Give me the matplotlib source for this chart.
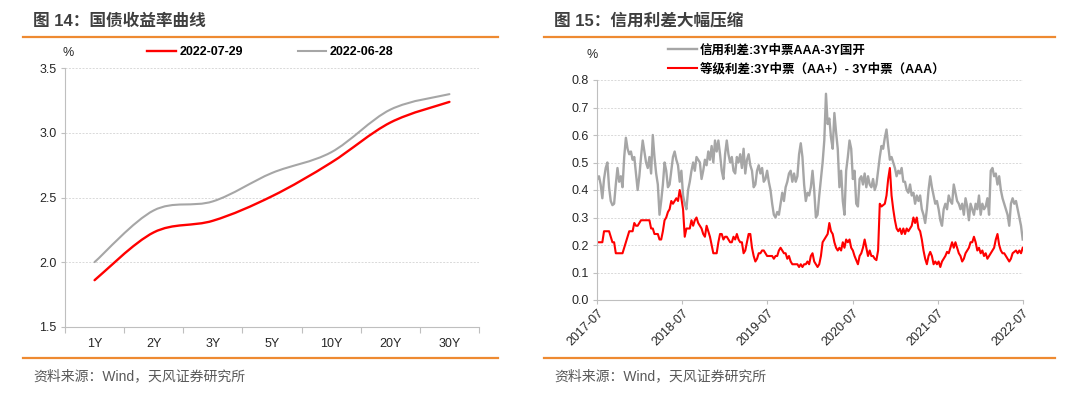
import matplotlib

matplotlib.use("Agg", force=True)

import matplotlib.pyplot as plt
import matplotlib.dates as mdates
import pandas as pd
from matplotlib.lines import Line2D
from matplotlib.patches import PathPatch
from matplotlib.path import Path

plt.rcParams["font.family"] = ["Liberation Sans", "Noto Sans CJK SC", "DejaVu Sans"]

# --- left: treasury yield curve ---
tenors = ["1Y", "2Y", "3Y", "5Y", "10Y", "20Y", "30Y"]
yield_0729 = [1.86, 2.23, 2.32, 2.51, 2.77, 3.08, 3.24]
yield_0628 = [2.00, 2.40, 2.47, 2.69, 2.85, 3.18, 3.30]

# --- right: credit spreads, 2017-07 .. 2022-07 ---
credit_spread = [
    0.44, 0.45, 0.42, 0.37, 0.44, 0.48, 0.50, 0.41, 0.36, 0.345,
    0.35, 0.42, 0.48, 0.43, 0.45, 0.41, 0.52, 0.59, 0.55, 0.53,
    0.54, 0.51, 0.52, 0.46, 0.40, 0.45, 0.52, 0.58, 0.54, 0.50,
    0.48, 0.52, 0.46, 0.60, 0.52, 0.46, 0.42, 0.31, 0.36, 0.42,
    0.50, 0.47, 0.41, 0.42, 0.47, 0.52, 0.54, 0.51, 0.49, 0.43,
    0.47,
    0.38, 0.35, 0.33, 0.40, 0.43, 0.47, 0.50, 0.47, 0.52, 0.51,
    0.50, 0.44, 0.47, 0.51, 0.49, 0.54, 0.51, 0.56, 0.50, 0.58,
    0.54, 0.58, 0.53, 0.47, 0.44, 0.53, 0.58, 0.53, 0.50, 0.52,
    0.47, 0.46, 0.52, 0.50, 0.53, 0.48, 0.55, 0.46, 0.51, 0.53,
    0.49, 0.47, 0.41, 0.42, 0.47, 0.49, 0.46, 0.48, 0.43, 0.44,
    0.47, 0.43, 0.40, 0.35, 0.31, 0.30, 0.32, 0.31, 0.35,
    0.39, 0.36, 0.41, 0.43, 0.46, 0.47, 0.43, 0.46, 0.43, 0.45,
    0.53, 0.57, 0.52, 0.42, 0.36, 0.39, 0.38, 0.41, 0.47, 0.40,
    0.30, 0.31, 0.38, 0.44, 0.50, 0.58, 0.75, 0.64, 0.66, 0.59,
    0.55, 0.68, 0.61, 0.55, 0.41, 0.47, 0.36, 0.31, 0.47, 0.52,
    0.58, 0.55, 0.44, 0.47, 0.35, 0.34, 0.44, 0.45, 0.42, 0.46,
    0.41, 0.45, 0.42, 0.41, 0.44, 0.40, 0.42, 0.47, 0.52, 0.56,
    0.55, 0.59, 0.62, 0.56, 0.51, 0.52, 0.50, 0.48, 0.45, 0.47,
    0.46, 0.48, 0.43, 0.43, 0.40, 0.39, 0.42, 0.38, 0.39, 0.35,
    0.38, 0.36, 0.38, 0.33, 0.31, 0.28, 0.33, 0.40, 0.45, 0.41,
    0.38, 0.35, 0.36, 0.33, 0.29, 0.27, 0.33, 0.35, 0.33, 0.38,
    0.36, 0.35, 0.42, 0.39, 0.36, 0.35, 0.33, 0.35, 0.31, 0.37,
    0.34, 0.29, 0.35, 0.33, 0.31, 0.35, 0.33, 0.38, 0.31, 0.35,
    0.33, 0.34, 0.37, 0.31, 0.47, 0.48, 0.45, 0.46, 0.42, 0.45,
    0.40, 0.37, 0.35, 0.33, 0.31, 0.27, 0.35, 0.37, 0.35, 0.36,
    0.33, 0.30, 0.27, 0.22,
]
grade_spread = [
    0.21, 0.21, 0.21, 0.21, 0.25, 0.25, 0.25, 0.25, 0.23, 0.21,
    0.21, 0.17, 0.17, 0.17, 0.17, 0.17, 0.19, 0.21, 0.23, 0.25,
    0.25, 0.25, 0.28, 0.27, 0.27, 0.28, 0.29, 0.29, 0.29, 0.29,
    0.29, 0.29, 0.26, 0.26, 0.24, 0.24, 0.24, 0.22, 0.22, 0.25,
    0.29, 0.30, 0.32, 0.33, 0.36, 0.35, 0.36, 0.37, 0.36, 0.40,
    0.37,
    0.33, 0.23, 0.26, 0.26, 0.26, 0.29, 0.27, 0.29, 0.30, 0.28,
    0.27, 0.26, 0.24, 0.23, 0.27, 0.25, 0.23, 0.20, 0.17, 0.17,
    0.17, 0.21, 0.24, 0.24, 0.22, 0.23, 0.23, 0.22, 0.21, 0.21,
    0.23, 0.22, 0.24, 0.22, 0.21, 0.21, 0.17, 0.18, 0.21, 0.24,
    0.24, 0.19, 0.16, 0.14, 0.15, 0.17, 0.17, 0.18, 0.18, 0.17,
    0.16, 0.16, 0.16, 0.16, 0.15, 0.16, 0.16, 0.18, 0.19,
    0.18, 0.17, 0.17, 0.15, 0.16, 0.14, 0.13, 0.13, 0.13, 0.13,
    0.12, 0.13, 0.12, 0.13, 0.13, 0.14, 0.13, 0.16, 0.17, 0.14,
    0.13, 0.12, 0.13, 0.16, 0.21, 0.22, 0.23, 0.24, 0.28, 0.25,
    0.24, 0.21, 0.19, 0.18, 0.19, 0.18, 0.21, 0.19, 0.22, 0.21,
    0.22, 0.19, 0.18, 0.16, 0.145, 0.13, 0.16, 0.17, 0.19, 0.22,
    0.19, 0.16, 0.18, 0.16, 0.16, 0.15, 0.145, 0.18, 0.35, 0.34,
    0.345, 0.35, 0.38, 0.44, 0.48, 0.38, 0.33, 0.29, 0.26, 0.25,
    0.26, 0.24, 0.26, 0.24, 0.26, 0.25, 0.26, 0.27, 0.30, 0.28,
    0.30, 0.26, 0.25, 0.22, 0.18, 0.15, 0.13, 0.16, 0.175, 0.16,
    0.13, 0.14, 0.13, 0.14, 0.12, 0.14, 0.15, 0.16, 0.175, 0.17,
    0.19, 0.21, 0.19, 0.21, 0.19, 0.17, 0.16, 0.14, 0.15, 0.17,
    0.18, 0.19, 0.21, 0.21, 0.23, 0.21, 0.18, 0.19, 0.17, 0.18,
    0.16, 0.17, 0.15, 0.16, 0.17, 0.18, 0.19, 0.22, 0.24, 0.20,
    0.18, 0.17, 0.17, 0.16, 0.15, 0.14, 0.15, 0.17, 0.175, 0.18,
    0.17, 0.18, 0.17, 0.19,
]
spread_dates = pd.date_range("2017-07-01", "2022-07-01", periods=len(credit_spread))
year_ticks = pd.to_datetime(["2017-07-01", "2018-07-01", "2019-07-01",
                             "2020-07-01", "2021-07-01", "2022-07-01"])

W, H = 1080, 393
ORANGE = "#EE8A31"
GRID = "#D9D9D9"
SPINE = "#BFBFBF"
TXT = "#262626"
RED = "#FF0000"
GREY = "#A6A6A6"
FS = 9


def fx(px):
    return px / W


def fy(py):
    return 1 - py / H


def smooth_path(xs, ys):
    # Excel-style "smoothed line": Catmull-Rom segments as cubic Beziers
    pts = list(zip(xs, ys))
    n = len(pts)
    verts, codes = [pts[0]], [Path.MOVETO]
    for i in range(n - 1):
        p0, p1 = pts[max(i - 1, 0)], pts[i]
        p2, p3 = pts[i + 1], pts[min(i + 2, n - 1)]
        c1 = (p1[0] + (p2[0] - p0[0]) / 6, p1[1] + (p2[1] - p0[1]) / 6)
        c2 = (p2[0] - (p3[0] - p1[0]) / 6, p2[1] - (p3[1] - p1[1]) / 6)
        verts += [c1, c2, p2]
        codes += [Path.CURVE4] * 3
    return Path(verts, codes)


fig = plt.figure(figsize=(W / 100, H / 100), dpi=100)

# titles, rules and sources
for x0, x1, tx, title in [(23, 498, 33, "图 14：国债收益率曲线"),
                          (544, 1055, 554, "图 15：信用利差大幅压缩")]:
    fig.text(fx(tx), fy(21), title, fontsize=12, fontweight="bold",
             color="#3F3F3F", va="center", ha="left")
    for yy in (36.5, 358):
        fig.add_artist(Line2D([fx(x0), fx(x1)], [fy(yy), fy(yy)],
                              transform=fig.transFigure, color=ORANGE, lw=1.6))
    fig.text(fx(tx), fy(376), "资料来源：Wind，天风证券研究所", fontsize=10,
             color="#595959", va="center", ha="left")


def style_axes(ax):
    for s in ("top", "right"):
        ax.spines[s].set_visible(False)
    for s in ("left", "bottom"):
        ax.spines[s].set_color(SPINE)
        ax.spines[s].set_linewidth(0.8)
    ax.grid(axis="y", color=GRID, linestyle=(0, (2, 1.5)), linewidth=0.7)
    ax.set_axisbelow(True)
    ax.tick_params(axis="y", length=3, width=0.8, color=SPINE, pad=3,
                   labelsize=FS, labelcolor=TXT)


# ---- left chart ----
ax1 = fig.add_axes([fx(65), fy(326.7), fx(479 - 65), (326.7 - 68.3) / H])
style_axes(ax1)
xs = list(range(len(tenors)))
for vals, col, lw in [(yield_0628, GREY, 1.5), (yield_0729, RED, 1.7)]:
    ax1.add_patch(PathPatch(smooth_path(xs, vals), fill=False, edgecolor=col,
                            lw=lw, capstyle="round", joinstyle="round"))
ax1.set_xlim(-0.5, len(tenors) - 0.5)
ax1.set_ylim(1.5, 3.5)
ax1.set_yticks([1.5, 2.0, 2.5, 3.0, 3.5])
ax1.set_yticklabels([f"{v:.1f}" for v in [1.5, 2.0, 2.5, 3.0, 3.5]])
ax1.set_xticks(xs)
ax1.set_xticklabels(tenors)
ax1.set_xticks([i - 0.5 for i in range(len(tenors) + 1)], minor=True)
ax1.tick_params(axis="x", which="major", length=0, pad=8, labelsize=FS,
                labelcolor=TXT)
ax1.tick_params(axis="x", which="minor", length=4, width=0.8, color=SPINE)
fig.text(fx(68), fy(53), "%", fontsize=FS, color=TXT, ha="center", va="center")
handles1 = [Line2D([], [], color=RED, lw=1.7), Line2D([], [], color=GREY, lw=1.5)]
ax1.legend(handles1, ["2022-07-29", "2022-06-28"], loc="center left",
           bbox_to_anchor=(fx(141), fy(52)), bbox_transform=fig.transFigure,
           ncol=2, frameon=False, handlelength=2.3, handletextpad=0.25,
           columnspacing=4.4, borderpad=0, prop={"weight": "bold", "size": FS})

# ---- right chart ----
ax2 = fig.add_axes([fx(597.3), fy(300), fx(1022.7 - 597.3), (300 - 80) / H])
style_axes(ax2)
ax2.plot(spread_dates, credit_spread, color=GREY, lw=1.7,
         label="信用利差:3Y中票AAA-3Y国开")
ax2.plot(spread_dates, grade_spread, color=RED, lw=1.5,
         label="等级利差:3Y中票（AA+）- 3Y中票（AAA）")
ax2.set_xlim(spread_dates[0], spread_dates[-1])
ax2.set_ylim(0, 0.8)
ax2.set_yticks([i / 10 for i in range(9)])
ax2.set_yticklabels([f"{i / 10:.1f}" for i in range(9)])
ax2.set_xticks(year_ticks)
ax2.xaxis.set_major_formatter(mdates.DateFormatter("%Y-%m"))
ax2.tick_params(axis="x", length=3, width=0.8, color=SPINE, pad=2,
                labelsize=FS, labelcolor=TXT)
for lab in ax2.get_xticklabels():
    lab.set_rotation(45)
    lab.set_ha("right")
    lab.set_rotation_mode("anchor")
fig.text(fx(592), fy(55), "%", fontsize=FS, color=TXT, ha="center", va="center")
ax2.legend(loc="upper left", bbox_to_anchor=(fx(662), fy(38)),
           bbox_transform=fig.transFigure, ncol=1, frameon=False,
           handlelength=2.3, handletextpad=0.25, labelspacing=0.5,
           borderpad=0, prop={"weight": "bold", "size": FS})

fig.savefig("out.png", dpi=100)
plt.close(fig)
